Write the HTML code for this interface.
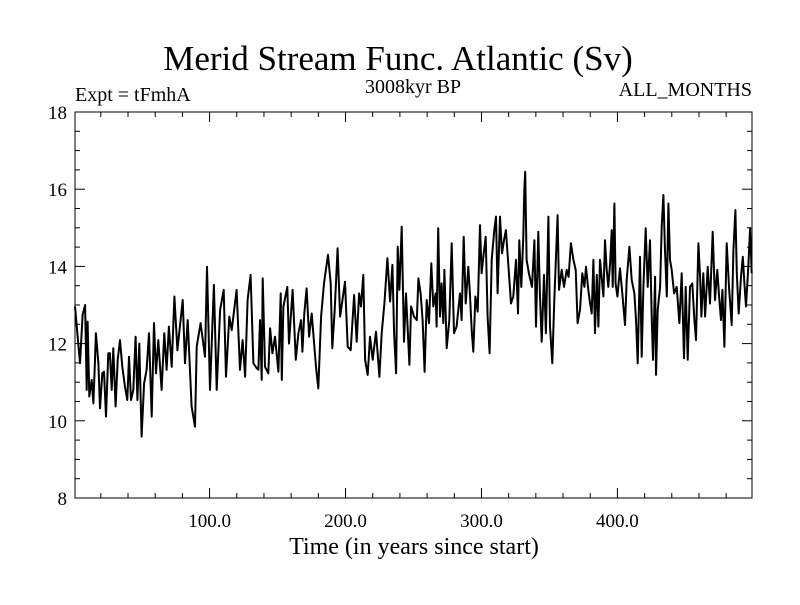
<!DOCTYPE html>
<html><head><meta charset="utf-8"><style>
body{margin:0;background:#fff}
svg text{font-family:"Liberation Serif",serif;fill:#000}
</style></head><body>
<svg id="chart" width="800" height="600" xmlns="http://www.w3.org/2000/svg">
<rect width="800" height="600" fill="#fff"/>
<text x="398" y="70" font-size="35" text-anchor="middle">Merid Stream Func. Atlantic (Sv)</text>
<text x="75" y="101" font-size="20">Expt = tFmhA</text>
<text x="413" y="93" font-size="20" text-anchor="middle">3008kyr BP</text>
<text x="752" y="96" font-size="20" text-anchor="end">ALL_MONTHS</text>
<text x="414" y="554" font-size="24" text-anchor="middle">Time (in years since start)</text>
<g id="axes"></g>
<path id="series" fill="none" stroke="#000" stroke-width="2" stroke-linejoin="round"/>
<rect x="75" y="112" width="677" height="386" fill="none" stroke="#000" stroke-width="1"/>
</svg>
<script>
const years=[1,4.7,6.6,8.4,9.6,10.3,11.5,13.3,14.5,15.7,16.4,18.2,19.4,21.1,22.3,23.8,25.5,26.7,28,29.2,30.9,32.4,34.1,35.8,37.8,39.5,40.7,42.2,43.9,45.6,46.9,48.3,50,51.8,53.7,55.4,57.4,59.1,60.6,62.3,64.7,66.7,68.4,70.1,72.1,74.1,76.3,80.2,81.9,83.9,86.8,89.3,90.5,93.4,96.6,98.1,100.3,103.2,105.2,107.7,110.4,112.1,114.5,116.3,119.9,122.4,124.3,126.1,128,
130.2,132.2,134.7,135.9,137.1,138.3,139.1,140.8,143.2,144.5,146.2,148.1,150.6,152.3,153.1,154.3,157.2,158.4,161.1,163.4,165.3,167.3,168.3,169.7,171.4,173.2,175.1,178.3,180,182,184.2,187.1,189.1,190.3,192,194.2,196,199.6,201.6,203.8,206.3,208.2,210,211.4,213.1,214.4,216.3,218,220,222.4,224.9,226.6,228.6,230.8,232.8,234.5,235.7,237.2,238.4,239.6,241.3,243,244.5,247,248.2,250.4,252.4,253.6,
255.2,256.7,258.2,259.7,261.4,263.1,264.6,266.3,267,268.2,269.5,270.7,271.9,272.7,274.4,276.3,278.1,279.8,281.7,284.2,285.4,286.9,288.4,290.3,291.5,292.8,294,295.5,297.2,298.9,300.1,301.8,303.1,304.5,306,307.5,309.4,310.7,311.9,313.6,315.1,316.6,318,320,321.7,323.4,325.4,326.9,327.8,329.3,330.8,331.5,332.2,333.2,334.9,337.2,338.9,340.1,341.8,343,344.3,346,347.4,349.2,350.4,352.1,353.6,356,357,359,360.7,362.7,364.1,365.8,367.6,369.3,370.7,372.5,374.2,375.7,376.9,378.6,
379.9,381.1,382.3,383.5,384.8,386,387.2,388.4,389.7,390.9,392.1,393.3,394.6,395.8,396.5,397.8,398.7,400,401.9,403.6,405.6,406.8,408.8,410.5,412.5,413.7,414.9,416.6,417.9,419.1,420.8,422.3,424,425.2,426.2,427.7,428.4,429.6,431.4,432.6,433.8,435,436.3,437.5,438.7,439.9,441.7,443.6,445.6,447.3,449,450.2,451.7,453.4,455.1,456.6,457.8,459.6,460.8,461.8,463.2,464.5,466.4,468.1,470.1,471.8,473.5,474.8,476.2,477.2,478.7,480.4,482.1,484.1,485.3,486.8,487.8,489.2,490.9,492.2,493.4,494.6,496.3,497.6,498.8];
const values=[12.96,11.49,12.74,13.0,10.8,12.57,10.63,11.06,10.45,11.58,12.27,11.49,10.32,11.23,11.27,10.11,11.75,11.75,10.8,11.88,10.37,11.58,12.09,11.4,10.88,10.54,11.66,10.54,10.8,12.18,10.54,12.0,9.59,10.97,11.32,12.27,10.11,12.53,11.23,12.09,10.8,12.27,11.32,12.44,11.4,13.22,11.83,13.13,11.49,12.61,10.37,9.85,11.92,12.53,11.66,13.99,10.8,13.52,10.8,12.87,13.39,11.14,12.7,12.35,13.39,11.32,12.09,11.14,13.13,
13.78,11.49,11.36,11.32,12.61,11.06,13.69,11.4,11.23,12.4,11.75,12.18,11.27,13.3,11.06,12.96,13.47,12.0,13.39,11.58,12.27,12.61,11.79,12.78,13.43,12.18,12.78,11.4,10.84,12.7,13.56,14.3,13.56,11.88,12.87,14.47,12.7,13.6,11.92,11.83,13.26,12.05,13.3,12.96,13.78,11.58,11.19,12.18,11.58,12.31,11.14,12.27,13.04,14.21,13.09,14.04,12.27,11.23,14.51,13.39,15.03,12.05,13.3,11.45,12.96,12.7,12.61,13.69,
13.3,12.61,11.27,13.13,12.53,14.08,12.96,13.3,12.44,14.99,12.7,13.56,12.53,13.91,11.88,12.61,14.6,12.27,12.44,13.3,12.61,14.77,13.04,13.99,13.3,12.35,11.79,13.22,12.83,15.07,13.82,14.38,14.77,12.7,11.75,14.17,14.94,15.29,13.3,15.29,14.34,14.68,14.94,13.91,13.04,13.22,14.17,12.78,14.68,13.47,14.77,15.98,16.45,14.17,13.82,13.47,14.68,12.44,14.9,13.3,12.05,13.78,12.27,15.29,12.44,11.49,13.13,15.33,13.39,13.91,13.47,13.91,13.73,14.6,14.17,13.91,12.53,12.87,13.82,13.47,13.99,13.39,
13.04,12.78,14.17,12.27,13.78,12.44,14.17,13.73,13.22,14.68,13.91,13.47,14.08,14.94,13.47,15.63,13.56,13.22,13.95,13.3,12.48,13.65,14.51,13.65,13.3,12.61,11.49,14.25,11.66,13.47,14.99,13.47,14.68,12.7,11.58,13.73,11.19,12.87,13.47,15.03,15.85,14.42,13.22,15.63,14.17,13.91,13.3,13.47,12.53,13.82,11.62,13.47,11.58,13.47,13.56,12.61,12.09,14.6,13.73,12.7,13.82,12.7,13.99,13.04,14.9,13.13,13.91,13.22,12.61,13.39,11.92,14.6,13.47,12.48,14.42,15.46,13.82,12.78,13.73,14.25,13.56,12.96,13.99,14.99,13.82];
const xTickLabels=["100.0","200.0","300.0","400.0"];
const xTickValues=[100,200,300,400];
const yTickValues=[8,10,12,14,16,18];

const X0=75,X1=752,Y0=498,Y1=112,TMIN=1,TMAX=499,VMIN=8,VMAX=18;
function xs(t){return X0+(t-TMIN)*(X1-X0)/(TMAX-TMIN);}
function ys(v){return Y0-(v-VMIN)*(Y0-Y1)/(VMAX-VMIN);}
const NS="http://www.w3.org/2000/svg";
const axes=document.getElementById('axes');
function line(x1,y1,x2,y2,name){
  const l=document.createElementNS(NS,'line');
  l.setAttribute('x1',x1);l.setAttribute('y1',y1);l.setAttribute('x2',x2);l.setAttribute('y2',y2);
  l.setAttribute('stroke','#000');l.setAttribute('stroke-width','1');
  
  
  axes.appendChild(l);
}
function txt(x,y,s,anchor,name){
  const t=document.createElementNS(NS,'text');
  t.setAttribute('x',x);t.setAttribute('y',y);t.setAttribute('font-size','19');t.setAttribute('text-anchor',anchor);
  t.textContent=s;
  
  
  axes.appendChild(t);
}
for(let t=20;t<TMAX;t+=20){
  const x=xs(t),major=(t%100===0),len=major?10:5;
  line(x,Y0,x,Y0-len,'x-tick');
  line(x,Y1,x,Y1+len,'x-tick-top');
}
xTickValues.forEach((t,i)=>txt(xs(t),527,xTickLabels[i],'middle','x-tick-label'));
for(let v=VMIN;v<=VMAX;v+=0.5){
  const y=ys(v),major=(v%2===0),len=major?10:5;
  line(X0,y,X0+len,y,'y-tick');
  line(X1,y,X1-len,y,'y-tick-right');
}
yTickValues.forEach(v=>txt(67,ys(v)+7,String(v),'end','y-tick-label'));
let d='';
years.forEach((t,i)=>{d+=(i?'L':'M')+xs(t).toFixed(1)+','+ys(values[i]).toFixed(1);});
document.getElementById('series').setAttribute('d',d);
</script>
</body></html>
